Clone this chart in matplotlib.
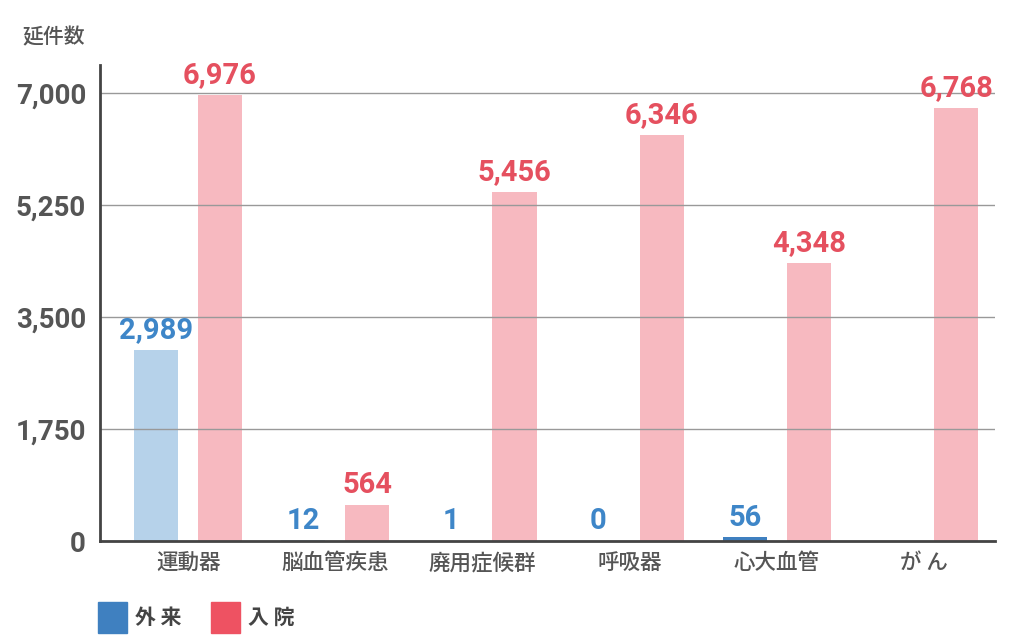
import matplotlib
matplotlib.use('Agg')
import matplotlib.pyplot as plt
from matplotlib.patches import Rectangle
import numpy as np

plt.rcParams['font.family'] = ['Noto Sans CJK JP', 'DejaVu Sans']

# データ
categories = ['運動器', '脳血管疾患', '廃用症候群', '呼吸器', '心大血管', 'が ん']
gairai = [2989, 12, 1, 0, 56, np.nan]   # 外来
nyuin = [6976, 564, 5456, 6346, 4348, 6768]  # 入院
yticks = [0, 1750, 3500, 5250, 7000]
legend_labels = ['外 来', '入 院']

# 色
blue_bar = '#b6d2ea'
blue_dark = '#3f80c0'
blue_txt = '#3e86c8'
pink_bar = '#f7b9c0'
red_txt = '#e5505f'
red_legend = '#ee5262'
gray_txt = '#555555'

W, H = 1024, 643
fig = plt.figure(figsize=(W / 100, H / 100), dpi=100)
ax = fig.add_axes([100 / W, 1 - 541 / H, 895 / W, 476 / H])

x = np.arange(len(categories))
off = 0.217
w = 0.30

# 56件の棒だけ濃い青になっている
gairai_colors = [blue_dark if v == 56 else blue_bar for v in gairai]
ax.bar(x - off, np.nan_to_num(gairai), width=w, color=gairai_colors, zorder=1)
ax.bar(x + off, nyuin, width=w, color=pink_bar, zorder=1)

val_font = dict(family=['Roboto', 'DejaVu Sans'], fontweight='bold', fontsize=21)
for i, v in enumerate(gairai):
    if np.isnan(v):
        continue
    ax.annotate(f'{int(v):,}', (x[i] - off, v), xytext=(0, 4), textcoords='offset points',
                ha='center', va='bottom', color=blue_txt, zorder=5, **val_font)
for i, v in enumerate(nyuin):
    ax.annotate(f'{v:,}', (x[i] + off, v), xytext=(0, 4), textcoords='offset points',
                ha='center', va='bottom', color=red_txt, zorder=5, **val_font)

ax.set_xlim(-0.598, 5.48)
ax.set_ylim(0, 7437)
ax.set_yticks(yticks)
ax.set_yticklabels([f'{t:,}' for t in yticks], color=gray_txt,
                   family=['Roboto', 'DejaVu Sans'], fontweight='bold', fontsize=20)
ax.set_xticks(x)
ax.set_xticklabels(categories, fontsize=15.5, color=gray_txt, fontweight='medium')
ax.tick_params(axis='y', length=0, pad=10)
ax.tick_params(axis='x', length=0, pad=8)

ax.grid(axis='y', color='#999999', linewidth=1, zorder=3)
ax.set_axisbelow(False)
for s in ['top', 'right']:
    ax.spines[s].set_visible(False)
for s in ['left', 'bottom']:
    ax.spines[s].set_color('#444444')
    ax.spines[s].set_linewidth(2)
    ax.spines[s].set_zorder(4)

fig.text(22 / W, 1 - 37 / H, '延件数', fontsize=15, color=gray_txt, fontweight='medium',
         va='center', ha='left')

# 凡例（四角とテキストを手で置く）
for lx, col, lab in zip([98, 211], [blue_dark, red_legend], legend_labels):
    fig.patches.append(Rectangle((lx / W, 1 - 633 / H), 29 / W, 31 / H,
                                 transform=fig.transFigure, color=col))
    fig.text((lx + 37) / W, 1 - 617 / H, lab, fontsize=15, fontweight='bold',
             color='#444444', va='center', ha='left')

fig.savefig('out.png', dpi=100)
